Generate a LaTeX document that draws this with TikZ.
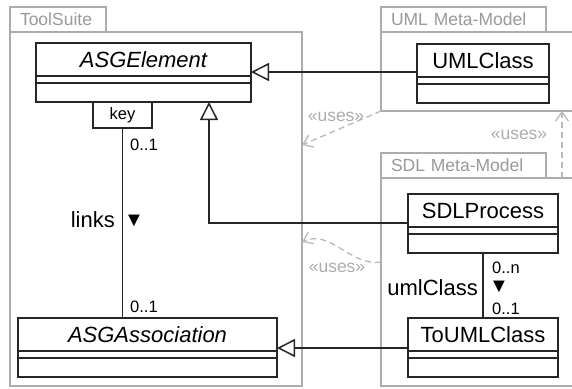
\documentclass[tikz,border=0pt]{standalone}
\usepackage{fontspec}
\setmainfont{Liberation Sans}
\usetikzlibrary{positioning,arrows.meta}

\begin{document}
\begin{tikzpicture}[x=1pt, y=-1pt,
	cls/.style={draw=black!85, line width=1.5pt, inner sep=0pt, outer sep=0pt, minimum height=33pt, font=\fontsize{22}{24}\selectfont},
	cmp/.style={draw=black!85, line width=1.5pt, inner sep=0pt, outer sep=0pt},
	qual/.style={draw=black!85, line width=1.5pt, inner sep=0pt, outer sep=0pt, minimum width=59pt, minimum height=26pt, font=\fontsize{16.5}{18}\selectfont},
	pkg/.style={draw=gray!65, line width=1.3pt},
	pkgtab/.style={draw=gray!65, line width=1.3pt, text=gray!80, inner xsep=10pt, inner ysep=0pt, outer sep=0pt, minimum height=25pt, align=left, font=\fontsize{17.5}{19}\selectfont},
	gen/.style={draw=black!85, line width=1.5pt, -{Triangle[open, length=18pt, width=18pt]}},
	assoc/.style={draw=black!85, line width=1.5pt},
	uses/.style={draw=gray!55, line width=1.3pt, dash pattern=on 6pt off 4pt, -{Straight Barb[length=9pt, width=13pt]}},
	usestxt/.style={text=gray!65, inner sep=0pt, font=\fontsize{17.5}{19}\selectfont},
	mult/.style={inner sep=0pt, font=\fontsize{16.5}{18}\selectfont},
	role/.style={inner sep=0pt, font=\fontsize{22}{24}\selectfont},
	dir/.style={inner sep=0pt, font=\fontsize{20}{22}\selectfont}]
	
	\useasboundingbox (0,0) rectangle (572,388);
	
	% packages
	\draw[pkg] (10,32) rectangle (302,386);
	\node[pkgtab, text width=76pt, anchor=south west] (toolsuite) at (10,32) {ToolSuite};
	\draw[pkg] (572,32) -- (381,32) -- (381,111) -- (572,111);
	\node[pkgtab, text width=145pt, anchor=south west] (umlmm) at (381,32) {UML Meta-Model};
	\draw[pkg] (572,178) -- (381,178) -- (381,386) -- (572,386);
	\node[pkgtab, text width=145pt, anchor=south west] (sdlmm) at (381,178) {SDL Meta-Model};
	
	\coordinate (umlmm-sw) at (381,111);
	\coordinate (umlmm-s) at (562,111);
	\coordinate (sdlmm-n) at (562,178);
	\coordinate (sdlmm-w) at (381,262);
	\coordinate (toolsuite-e1) at (302,145);
	\coordinate (toolsuite-e2) at (302,242);
	
	% classes
	\node[cls, minimum width=215pt, anchor=north west] (asgel) at (36,43) {\itshape ASGElement};
	\node[cmp, minimum width=215pt, minimum height=7pt, below=0pt of asgel] (asgel-a) {};
	\node[cmp, minimum width=215pt, minimum height=19pt, below=0pt of asgel-a] (asgel-o) {};
	\node[qual, anchor=north] (key) at (122.5,102) {key};
	
	\node[cls, minimum width=259pt, anchor=north west] (asgassoc) at (18,318) {\itshape ASGAssociation};
	\node[cmp, minimum width=259pt, minimum height=7pt, below=0pt of asgassoc] (asgassoc-a) {};
	\node[cmp, minimum width=259pt, minimum height=19pt, below=0pt of asgassoc-a] (asgassoc-o) {};
	
	\node[cls, minimum width=132pt, anchor=north west] (umlcls) at (417,44) {UMLClass};
	\node[cmp, minimum width=132pt, minimum height=7pt, below=0pt of umlcls] (umlcls-a) {};
	\node[cmp, minimum width=132pt, minimum height=19pt, below=0pt of umlcls-a] (umlcls-o) {};
	
	\node[cls, minimum width=150pt, anchor=north west] (sdlproc) at (408,194) {SDLProcess};
	\node[cmp, minimum width=150pt, minimum height=7pt, below=0pt of sdlproc] (sdlproc-a) {};
	\node[cmp, minimum width=150pt, minimum height=19pt, below=0pt of sdlproc-a] (sdlproc-o) {};
	
	\node[cls, minimum width=150pt, anchor=north west] (toumlcls) at (408,318) {ToUMLClass};
	\node[cmp, minimum width=150pt, minimum height=7pt, below=0pt of toumlcls] (toumlcls-a) {};
	\node[cmp, minimum width=150pt, minimum height=19pt, below=0pt of toumlcls-a] (toumlcls-o) {};
	
	% generalizations
	\draw[gen] (umlcls.west |- 0,72) -- (asgel.east |- 0,72);
	\draw[gen] (sdlproc.west |- 0,223) -| (asgel-o.south -| 209,0);
	\draw[gen] (toumlcls.west |- 0,348) -- (asgassoc.east |- 0,348);
	
	% associations
	\draw[assoc] (key.south) -- (asgassoc.north -| key.south);
	\node[mult, anchor=west] (links-m1) at (130,145) {0..1};
	\node[mult, anchor=west] (links-m2) at (130,306.5) {0..1};
	\node[role, anchor=east] (links) at (115,220) {links};
	\node[dir] (links-dir) at (134,221) {▼};
	
	\draw[assoc] (sdlproc-o.south) -- (toumlcls.north);
	\node[mult, anchor=west] (umlclass-m1) at (492,268) {0..n};
	\node[mult, anchor=west] (umlclass-m2) at (492,308.5) {0..1};
	\node[role, anchor=east] (umlclass) at (478,288) {umlClass};
	\node[dir] (umlclass-dir) at (499,287) {▼};
	
	% dependencies
	\draw[uses] (umlmm-sw) -- (toolsuite-e1);
	\node[usestxt] (uses1) at (336,117) {«uses»};
	\draw[uses] (sdlmm-n) -- (umlmm-s);
	\node[usestxt] (uses2) at (519,135) {«uses»};
	\draw[uses] (sdlmm-w) to[out=188, in=25] (toolsuite-e2);
	\node[usestxt] (uses3) at (337,268) {«uses»};
	
\end{tikzpicture}
\end{document}
